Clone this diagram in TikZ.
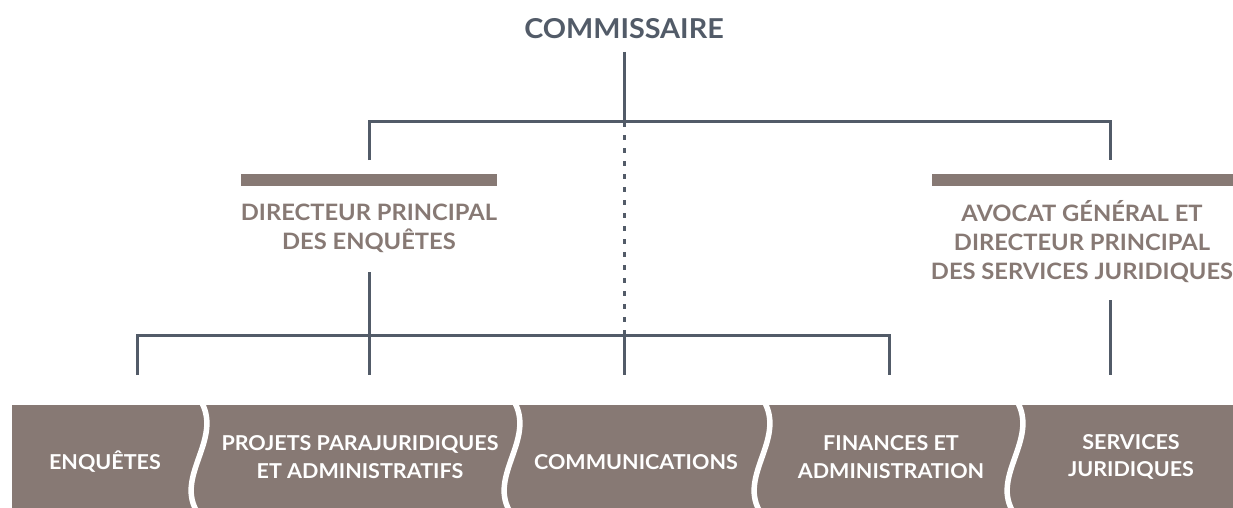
\documentclass[tikz,border=0pt]{standalone}
\usepackage{fontspec}
\setmainfont{Lato}[FakeStretch=1.05]
\usepackage{tikz}
\usetikzlibrary{positioning}
\definecolor{slategray}{RGB}{82,91,104}
\definecolor{taupe}{RGB}{135,121,116}

\tikzset{
  head/.style={font=\fontsize{27.4}{30}\selectfont\bfseries,text=slategray,inner sep=0pt},
  dirtext/.style={font=\fontsize{22.6}{29}\selectfont\bfseries,text=taupe,align=center,inner sep=0pt},
  unit/.style={font=\fontsize{20.5}{27.5}\selectfont\bfseries,text=white,align=center,inner sep=0pt},
  bar/.style={fill=taupe,minimum height=12pt,inner sep=0pt},
  link/.style={slategray,line width=3pt},
  dotlink/.style={slategray,line width=3pt,dash pattern=on 5pt off 8pt},
}

\begin{document}
\begin{tikzpicture}[x=1pt,y=-1pt]
    \useasboundingbox (0,0) rectangle (1233,508);

    % top level
    \node[head] (comm) at (624,29) {COMMISSAIRE};
    \coordinate (c0) at (624,52);
    \coordinate (top) at (624,122);
    \coordinate (jl) at (369,160);
    \coordinate (jr) at (1110,160);
    \draw[link] (c0) -- (top);
    \draw[link] (jl) |- (top) -| (jr);

    % directors
    \node[bar,minimum width=256pt] (barl) at (369,180) {};
    \node[bar,minimum width=301pt] (barr) at (1082.5,180) {};
    \node[dirtext] (dpe) at (369,228) {DIRECTEUR PRINCIPAL\\DES ENQUÊTES};
    \node[dirtext] (agj) at (1082,242) {AVOCAT GÉNÉRAL ET\\DIRECTEUR PRINCIPAL\\DES SERVICES JURIDIQUES};

    % lower bus
    \coordinate (mid) at (624,335);
    \coordinate (dl) at (369,272);
    \coordinate (dr) at (1110,300);
    \draw[dotlink] (top) -- (mid);
    \draw[link] (dl) -- (369,335);
    \draw[link] (137,375) |- (mid) -| (889,375);
    \foreach \x in {369,624}
      \draw[link] (\x,335) -- (\x,375);
    \draw[link] (dr) -- (1110,375);

    % band of units
    \fill[taupe] (12,405) rectangle (1233,508);
    \foreach \s in {202,515,765,1018}
      \draw[white,line width=5.5pt] (\s,403) .. controls (\s+19,440) and (\s-25,475) .. (\s-6,510);

    \node[unit] (enq) at (105,462) {ENQUÊTES};
    \node[unit] (proj) at (360,457) {PROJETS PARAJURIDIQUES\\ET ADMINISTRATIFS};
    \node[unit] (com) at (636,462) {COMMUNICATIONS};
    \node[unit] (fin) at (891,457) {FINANCES ET\\ADMINISTRATION};
    \node[unit] (jur) at (1131,457) {SERVICES\\JURIDIQUES};
  \end{tikzpicture}
\end{document}
